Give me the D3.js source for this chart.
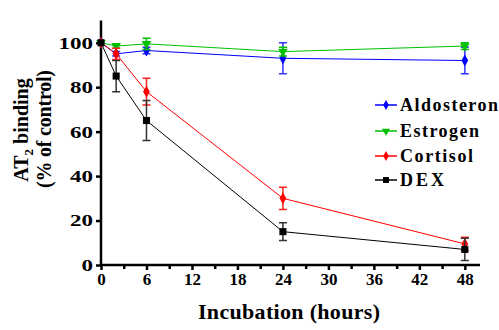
<!DOCTYPE html>
<html>
<head>
<meta charset="utf-8">
<script src="https://cdn.jsdelivr.net/npm/d3@7"></script>
</head>
<body style="margin:0">
<script>
var width = 499, height = 330;
var serif = "'Liberation Serif'";

// hours of incubation
var times = [0, 2, 6, 24, 48];

var aldosteron = [100, 95, 96.5, 93, 92],
    aldosteronErr = [0, 1, 1.5, 7, 6];
var estrogen = [100, 98.5, 99.5, 96, 98.5],
    estrogenErr = [0, 1, 2.5, 2, 1.5];
var cortisol = [100, 95, 78, 30, 9.5],
    cortisolErr = [0, 2.5, 6, 5, 3];
var dex = [100, 85, 65, 15, 7],
    dexErr = [0, 7, 9, 4, 5];

var seriesNames = ["Aldosteron", "Estrogen", "Cortisol", "DEX"];
var xTicks = [0, 6, 12, 18, 24, 30, 36, 42, 48];
var xMinor = [3, 9, 15, 21, 27, 33, 39, 45];
var yTicks = [0, 20, 40, 60, 80, 100];

var series = [
  {name: seriesNames[0], vals: aldosteron, err: aldosteronErr, col: "#0000ff", errCol: "#3333ff", sym: d3.symbolDiamond, size: 40},
  {name: seriesNames[1], vals: estrogen, err: estrogenErr, col: "#00c000", errCol: "#00c000", sym: d3.symbolTriangle, size: 40, flip: true},
  {name: seriesNames[2], vals: cortisol, err: cortisolErr, col: "#ff0000", errCol: "#ff2020", sym: d3.symbolDiamond, size: 40},
  {name: seriesNames[3], vals: dex, err: dexErr, col: "#000000", errCol: "#333333", sym: d3.symbolSquare, size: 50}
];

function serifText(sel, size) {
  return sel.style("font-family", serif, "important")
      .style("font-size", size + "px", "important")
      .style("font-weight", "bold", "important");
}

var svg = d3.select("body").append("svg")
    .attr("width", width)
    .attr("height", height);

var x = d3.scaleLinear().domain([0, 50]).range([101, 480]);
var y = d3.scaleLinear().domain([0, 110]).range([265, 20.5]);

// axes
var xAxis = svg.append("g")
    .attr("transform", "translate(0," + y(0) + ")")
    .call(d3.axisBottom(x).tickValues(xTicks).tickSize(5).tickPadding(3));

svg.append("g")
    .attr("transform", "translate(0," + y(0) + ")")
    .call(d3.axisBottom(x).tickValues(xMinor).tickSize(4).tickFormat(""))
    .select(".domain").remove();

var yAxis = svg.append("g")
    .attr("transform", "translate(" + x(0) + ",0)")
    .call(d3.axisLeft(y).tickValues(yTicks).tickSize(5).tickPadding(3));

svg.selectAll("g").attr("font-family", null).attr("font-size", null);

serifText(xAxis.selectAll(".tick text"), 17).attr("fill", "#000");
serifText(yAxis.selectAll(".tick text"), 17)
    .attr("fill", "#000")
    .attr("textLength", function(d) { return String(d).length * 11.5; })
    .attr("lengthAdjust", "spacingAndGlyphs");

svg.selectAll(".domain, .tick line")
    .attr("stroke", "#000")
    .attr("stroke-width", 2.5);
xAxis.select(".domain").attr("d", "M" + x(0) + ",0H" + x(50));
yAxis.select(".domain").attr("d", "M0," + y(0) + "V" + y(110));

// axis titles
serifText(svg.append("text"), 22)
    .attr("x", 289).attr("y", 319)
    .attr("text-anchor", "middle")
    .attr("textLength", 182)
    .text("Incubation (hours)");

var yt = serifText(svg.append("text"), 20)
    .attr("transform", "translate(28,130) rotate(-90)")
    .attr("text-anchor", "middle");
yt.append("tspan").text("AT");
yt.append("tspan").attr("dy", 5).style("font-size", "13px", "important").text("2");
yt.append("tspan").attr("dy", -5).text(" binding");

serifText(svg.append("text"), 20)
    .attr("transform", "translate(51,129) rotate(-90)")
    .attr("text-anchor", "middle")
    .attr("textLength", 118)
    .text("(% of control)");

var line = d3.line()
    .x(function(d) { return x(d[0]); })
    .y(function(d) { return y(d[1]); });

series.forEach(function(s) {
  var pts = times.map(function(t, i) { return [t, s.vals[i], s.err[i]]; });
  var g = svg.append("g");

  g.append("path")
      .attr("d", line(pts))
      .attr("fill", "none")
      .attr("stroke", s.col)
      .attr("stroke-width", 1);

  // error bars
  pts.filter(function(d) { return d[2] > 0; }).forEach(function(d) {
    var cx = x(d[0]);
    g.append("path")
        .attr("d", "M" + cx + "," + y(d[1] - d[2]) + "V" + y(d[1] + d[2]) +
                   "M" + (cx - 4) + "," + y(d[1] - d[2]) + "H" + (cx + 4) +
                   "M" + (cx - 4) + "," + y(d[1] + d[2]) + "H" + (cx + 4))
        .attr("stroke", s.errCol)
        .attr("stroke-width", 1.5)
        .attr("fill", "none");
  });

  g.selectAll(".pt").data(pts).enter().append("path")
      .attr("class", "pt")
      .attr("d", d3.symbol().type(s.sym).size(s.size))
      .attr("transform", function(d) {
        return "translate(" + x(d[0]) + "," + y(d[1]) + ")" + (s.flip ? " rotate(180)" : "");
      })
      .attr("fill", s.col);
});

// legend
var legendY = [105, 131, 156, 180],
    legendLen = [98, 79, 73, 44];
series.forEach(function(s, i) {
  var ly = legendY[i];
  svg.append("line")
      .attr("x1", 375).attr("x2", 397)
      .attr("y1", ly).attr("y2", ly)
      .attr("stroke", s.col).attr("stroke-width", 1.5);
  svg.append("path")
      .attr("d", d3.symbol().type(s.sym).size(s.size * 0.7))
      .attr("transform", "translate(386," + ly + ")" + (s.flip ? " rotate(180)" : ""))
      .attr("fill", s.col);
  serifText(svg.append("text"), 18)
      .attr("x", 400).attr("y", ly + 6)
      .attr("textLength", legendLen[i])
      .attr("lengthAdjust", "spacing")
      .text(s.name);
});
</script>
</body>
</html>
